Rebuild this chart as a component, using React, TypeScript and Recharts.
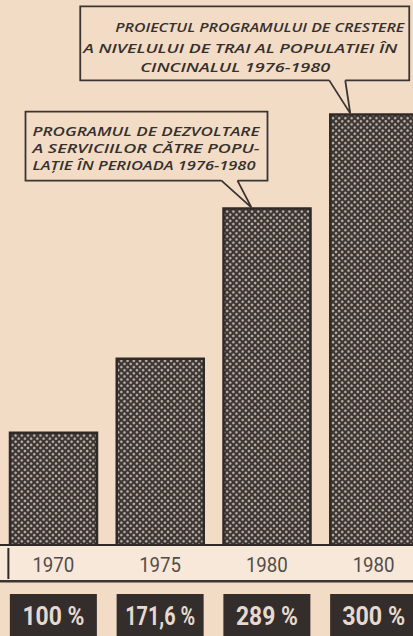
import React from 'react';
import { BarChart, Bar, XAxis, YAxis, LabelList } from 'recharts';

// Category labels (years)
const years = ['1970', '1975', '1980', '1980'];
// Bar heights as drawn (index 1970 = 100)
const barHeights = [100, 166, 300, 384];
// Percent labels printed below the bars
const pctLabels = ['100 %', '171,6 %', '289 %', '300 %'];
// Callout texts
const calloutServicii = ['PROGRAMUL DE DEZVOLTARE', 'A SERVICIILOR CĂTRE POPU-', 'LAȚIE ÎN PERIOADA 1976-1980'];
const calloutTrai = ['PROIECTUL PROGRAMULUI DE CRESTERE', 'A NIVELULUI DE TRAI AL POPULATIEI ÎN', 'CINCINALUL 1976-1980'];

const data = years.map((y, i) => ({ idx: i, year: y, value: barHeights[i], pct: pctLabels[i] }));

const BG = '#f2dcc6';
const INK = '#2f2a28';

const pctWidths = [62, 70, 62, 63];

const callouts: Record<number, any> = {
  2: {
    lines: calloutServicii,
    tipDx: 28,
    box: { l: -226, r: 16, t: -96, b: -27, ol: -30, or: -14 },
    text: [
      { x: -219, y: -72, w: 227 },
      { x: -219, y: -55, w: 227 },
      { x: -219, y: -38, w: 223 },
    ],
    size: 13,
  },
  3: {
    lines: calloutTrai,
    tipDx: 20,
    box: { l: -270, r: 59, t: -107, b: -33, ol: -21, or: -5 },
    text: [
      { x: -235, y: -81, w: 289 },
      { x: -267, y: -60, w: 314 },
      { x: -210, y: -41, w: 190 },
    ],
    size: 12.5,
  },
};

const Callout = (props: any) => {
  const { x, y, index } = props;
  const c = callouts[index];
  if (!c) return null;
  const tx = x + c.tipDx;
  const ty = y - 1;
  const b = c.box;
  const d =
    `M${tx + b.ol},${ty + b.b} L${tx + b.l},${ty + b.b} L${tx + b.l},${ty + b.t} ` +
    `L${tx + b.r},${ty + b.t} L${tx + b.r},${ty + b.b} L${tx + b.or},${ty + b.b} ` +
    `M${tx + b.ol},${ty + b.b} L${tx},${ty} M${tx + b.or},${ty + b.b} L${tx},${ty}`;
  return (
    <g>
      <path d={d} fill="none" stroke="#3a3432" strokeWidth={1.8} />
      {c.lines.map((line: string, i: number) => (
        <text
          key={i}
          x={tx + c.text[i].x}
          y={ty + c.text[i].y}
          textLength={c.text[i].w}
          lengthAdjust="spacingAndGlyphs"
          fontFamily="'Open Sans', sans-serif"
          fontStyle="italic"
          fontWeight={600}
          fontSize={c.size}
          fill="#36302d"
        >
          {line}
        </text>
      ))}
    </g>
  );
};

const YearTick = (props: any) => {
  const { x, y, payload } = props;
  const i = payload.value;
  return (
    <g>
      <rect x={x - 55} y={y + 1} width={110} height={34} fill="#f8e8da" />
      {i === 0 && <line x1={x - 45} x2={x - 45} y1={y + 3} y2={y + 34} stroke={INK} strokeWidth={2} />}
      <text
        x={x}
        y={y + 27}
        textAnchor="middle"
        textLength={42}
        lengthAdjust="spacingAndGlyphs"
        fontFamily="Roboto, sans-serif"
        fontSize={20}
        fill="#534c49"
      >
        {years[i]}
      </text>
    </g>
  );
};

const PctTick = (props: any) => {
  const { x, y, payload } = props;
  const i = payload.value;
  return (
    <g>
      <rect x={x - 43.5} y={y + 13} width={87} height={50} fill="#332e2c" />
      <text
        x={x}
        y={y + 44}
        textAnchor="middle"
        textLength={pctWidths[i]}
        lengthAdjust="spacingAndGlyphs"
        fontFamily="Roboto, sans-serif"
        fontWeight={700}
        fontSize={26}
        fill="#e6dad0"
      >
        {pctLabels[i]}
      </text>
    </g>
  );
};

export default function App() {
  return (
    <div
      style={{
        position: 'absolute',
        left: 0,
        top: 0,
        width: 413,
        height: 636,
        overflow: 'hidden',
        background: BG,
      }}
    >
      <BarChart
        width={427}
        height={636}
        data={data}
        margin={{ top: 0, right: 0, left: 0, bottom: 0 }}
        barSize={87}
      >
        <defs>
          <pattern id="halftone" width={4.4} height={4.4} patternUnits="userSpaceOnUse" patternTransform="rotate(45)">
            <rect width={4.4} height={4.4} fill="#3b3533" />
            <circle cx={2.2} cy={2.2} r={1.25} fill="#c4b8ae" />
          </pattern>
        </defs>
        <YAxis hide domain={[0, 486]} />
        <XAxis
          xAxisId="a_year"
          dataKey="idx"
          height={36}
          tickLine={false}
          tickSize={0}
          tickMargin={0}
          axisLine={{ stroke: INK, strokeWidth: 2 }}
          tick={<YearTick />}
          interval={0}
        />
        <XAxis
          xAxisId="b_pct"
          dataKey="idx"
          height={55}
          tickLine={false}
          tickSize={0}
          tickMargin={0}
          axisLine={{ stroke: '#3a3432', strokeWidth: 3 }}
          tick={<PctTick />}
          interval={0}
        />
        <Bar
          xAxisId="a_year"
          dataKey="value"
          fill="url(#halftone)"
          stroke={INK}
          strokeWidth={2.5}
          isAnimationActive={false}
        >
          <LabelList dataKey="value" content={<Callout />} />
        </Bar>
      </BarChart>
    </div>
  );
}
